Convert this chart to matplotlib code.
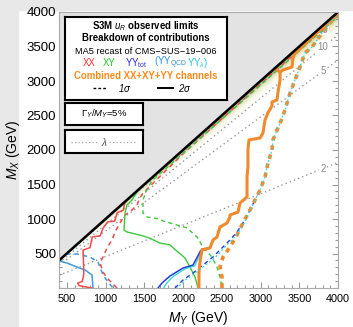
import matplotlib
matplotlib.use("Agg")
import matplotlib.pyplot as plt
from matplotlib.patches import Rectangle
from matplotlib.ticker import MultipleLocator
import numpy as np

plt.rcParams['font.family'] = ['Liberation Sans', 'DejaVu Sans']
plt.rcParams['mathtext.fontset'] = 'custom'
plt.rcParams['mathtext.rm'] = 'Liberation Sans'
plt.rcParams['mathtext.it'] = 'Liberation Sans:italic'
plt.rcParams['mathtext.bf'] = 'Liberation Sans:bold'

# ---- data (GeV) ----
# XX channel
xx_2s_x = [830, 720, 660, 640, 700, 720, 715, 710, 800, 830, 930, 970, 1030, 1120, 1150, 1230, 1250]
xx_2s_y = [0, 20, 35, 70, 95, 200, 400, 550, 585, 740, 755, 870, 960, 970, 1090, 1130, 1240]
xx_1s_x = [1148, 1084, 1019, 968, 929, 968, 1019, 1084, 1123, 1187, 1252, 1342, 1406, 1445, 1484,
           2000, 2500, 3000, 3500, 4000]
xx_1s_y = [0, 72, 145, 232, 362, 449, 580, 696, 812, 942, 1058, 1130, 1203, 1304, 1377,
           1945, 2450, 2955, 3460, 3960]
# XY channel
xy_2s_x = [1406, 1342, 1277, 1252, 1239, 1277, 1488, 1574, 1703, 1832, 1935, 2026, 2090, 2155, 2194]
xy_2s_y = [1390, 1275, 1203, 1087, 840, 812, 754, 720, 652, 623, 522, 435, 304, 159, 0]
xy_1s_x = [4000, 3000, 2000, 1600, 1548, 1520, 1484, 1484, 1535, 1703, 1742, 1922, 2052, 2181,
           2258, 2374, 2439, 2477, 2503]
xy_1s_y = [3935, 2940, 1950, 1555, 1449, 1391, 1275, 1087, 1029, 1000, 971, 913, 870, 739,
           594, 449, 304, 159, 0]
# YY total
yy_2s_x = [1677, 1729, 1832, 2000, 2129, 2219, 2245, 2348, 2387, 2439, 2477, 2568, 2606, 2606]
yy_2s_y = [0, 72, 174, 290, 333, 522, 565, 580, 696, 739, 884, 942, 1029, 1060]
yy_1s_x = [1897, 2000, 2129, 2258, 2387, 2503, 2606, 2697, 2774, 2864, 2929]
yy_1s_y = [0, 116, 217, 333, 449, 580, 696, 812, 942, 1130, 1275]
# YY QCD
qcd_2s_x = [400, 503, 632, 735, 826, 839]
qcd_2s_y = [395, 362, 304, 261, 188, 0]
qcd_1s_x = [490, 540, 632, 800, 903, 929, 968, 1032, 1097]
qcd_1s_y = [490, 493, 493, 449, 377, 304, 188, 87, 0]
# YY lambda
lam_2s_x = [1750, 1790, 1880, 2030, 2150, 2225]
lam_2s_y = [0, 72, 174, 280, 320, 500]
lam_1s_x = [1922, 2030, 2160, 2290, 2420, 2530, 2630, 2720, 2790, 2864, 2929, 2994, 3058, 3097,
            3148, 3161, 3213, 3270, 3316, 3381, 3445, 3510, 3574, 3665, 3729, 3794, 3871, 3961]
lam_1s_y = [0, 116, 217, 333, 449, 580, 696, 812, 942, 1130, 1275, 1420, 1609, 1812,
            2000, 2145, 2290, 2435, 2580, 2826, 3014, 3203, 3406, 3493, 3594, 3696, 3812, 3928]
# combined
comb_2s_x = [2206, 2206, 2219, 2245, 2348, 2387, 2439, 2477, 2568, 2606, 2606, 2710, 2735, 2826,
             2826, 2838, 2838, 2851, 2994, 3032, 3058, 3097, 3148, 3148, 3213, 3226, 3252, 3252,
             3290, 3406, 3419, 3445, 3700, 4000]
comb_2s_y = [0, 217, 377, 551, 580, 696, 739, 884, 942, 1029, 1058, 1101, 1232, 1319,
             1609, 1754, 2000, 2145, 2174, 2246, 2435, 2540, 2640, 2696, 2725, 2841, 3014, 3130,
             3159, 3203, 3333, 3400, 3670, 3970]
comb_spur_x = [3252, 3187]
comb_spur_y = [3130, 3180]
comb_1s_x = [2503, 2503, 2477, 2516, 2606, 2697, 2774, 2864, 2929, 2994, 3058, 3097, 3148, 3161,
             3213, 3270, 3316, 3381, 3445, 3510, 3574, 3665, 3729, 3794, 3871, 3961]
comb_1s_y = [0, 159, 304, 449, 594, 768, 942, 1130, 1275, 1420, 1609, 1812, 2000, 2145,
             2290, 2435, 2580, 2826, 3014, 3203, 3406, 3493, 3594, 3696, 3812, 3928]
# coupling contours (M_X / M_Y ratio for each lambda)
lam_vals = ['2', '5', '10', '50']
lam_ratio = [0.455, 0.826, 0.917, 0.984]
lam_label_x = 3806

c_red = '#f24b4b'
c_green = '#3cc83c'
c_blue = '#2a3cd6'
c_qcd = '#3c9be0'
c_lam = '#38d8e0'
c_orange = '#f08a2c'

fig = plt.figure(figsize=(3.53, 3.27), dpi=100)
fig.patches.append(Rectangle((0, 0), 18 / 353, 1, transform=fig.transFigure,
                             color='#e8e8e8', zorder=-10))
fig.patches.append(Rectangle((0, 1 - 10 / 327), 1, 10 / 327, transform=fig.transFigure,
                             color='#e8e8e8', zorder=-10))

ax = fig.add_axes([59 / 353, 1 - 288 / 327, 279 / 353, 276 / 327])
ax.set_xlim(400, 4000)
ax.set_ylim(0, 4000)

# shading near the kinematic edge
gx = np.linspace(400, 4000, 500)
gy = np.linspace(0, 4000, 560)
GX, GY = np.meshgrid(gx, gy)
r = GY / GX
t = np.clip((r - 0.90) / 0.10, 0, 1)
t[r > 1] = 0
c0 = np.array([0.96, 0.96, 0.80])
c1 = np.array([0.55, 0.56, 0.25])
rgba = np.zeros(GX.shape + (4,))
rgba[..., :3] = c0 + (c1 - c0) * (t[..., None] ** 3)
rgba[..., 3] = t ** 1.6
ax.imshow(rgba, extent=(400, 4000, 0, 4000), origin='lower', aspect='auto',
          interpolation='bilinear', zorder=1)

ax.fill([400, 400, 4000], [400, 4000, 4000], color='#e3e3e3', zorder=6, lw=0)

for lab, k in zip(lam_vals, lam_ratio):
    ax.plot([400, 4000], [400 * k, 4000 * k], ls=(0, (1, 2.2)), color='#999999', lw=1.0, zorder=2)
    ax.text(lam_label_x, lam_label_x * k, lab, fontsize=7, color='#888888', ha='center',
            va='center', zorder=3,
            bbox=dict(facecolor='white', edgecolor='none', pad=0.6))

dash = (0, (3, 2.5))
ax.plot(qcd_2s_x, qcd_2s_y, color=c_qcd, lw=1.1, zorder=4)
ax.plot(qcd_1s_x, qcd_1s_y, color=c_qcd, lw=1.1, ls=dash, zorder=4)
ax.plot(xx_2s_x, xx_2s_y, color=c_red, lw=1.1, zorder=4)
ax.plot(xx_1s_x, xx_1s_y, color=c_red, lw=1.1, ls=dash, zorder=4)
ax.plot(xy_2s_x, xy_2s_y, color=c_green, lw=1.0, zorder=4)
ax.plot(xy_1s_x, xy_1s_y, color=c_green, lw=1.0, ls=(2, (3, 2.5)), zorder=4)
ax.plot(lam_2s_x, lam_2s_y, color=c_lam, lw=1.0, zorder=4)
ax.plot(yy_2s_x, yy_2s_y, color=c_blue, lw=1.1, zorder=4)
ax.plot(yy_1s_x, yy_1s_y, color=c_blue, lw=1.0, ls=dash, zorder=4)
ax.plot(comb_2s_x, comb_2s_y, color=c_orange, lw=2.2, zorder=5, solid_joinstyle='round')
ax.plot(comb_spur_x, comb_spur_y, color=c_orange, lw=2.2, zorder=5)
ax.plot(comb_1s_x, comb_1s_y, color=c_orange, lw=2.6, ls=(0, (1.3, 1.3)), zorder=5)
ax.plot(lam_1s_x, lam_1s_y, color=c_lam, lw=0.9, ls=(1, (1.6, 1.8)), zorder=5)

ax.plot([400, 4000], [400, 4000], color='black', lw=1.8, zorder=7)

ax.set_xticks(np.arange(500, 4001, 500))
ax.set_yticks(np.arange(500, 4001, 500))
ax.xaxis.set_minor_locator(MultipleLocator(100))
ax.yaxis.set_minor_locator(MultipleLocator(100))
ax.tick_params(which='both', direction='in', top=True, right=True, color='#999999', width=0.8)
ax.tick_params(which='major', length=4.5)
ax.tick_params(which='minor', length=2.5)
ax.tick_params(axis='x', labelsize=7.8, pad=4)
ax.tick_params(axis='y', labelsize=9.5, pad=2)
for sp in ax.spines.values():
    sp.set_color('#aaaaaa')
    sp.set_linewidth(0.8)
    sp.set_zorder(8)
ax.set_xlabel(r'$M_Y$ (GeV)', fontsize=10, labelpad=4)
ax.set_ylabel(r'$M_X$ (GeV)', fontsize=10, labelpad=3)


def make_box(x0, y0, x1, y1):
    b = fig.add_axes([x0 / 353, 1 - y1 / 327, (x1 - x0) / 353, (y1 - y0) / 327])
    b.set_xlim(0, 1)
    b.set_ylim(0, 1)
    b.set_xticks([])
    b.set_yticks([])
    for sp in b.spines.values():
        sp.set_linewidth(1.5)
        sp.set_color('black')
    return b


lb = make_box(65, 17, 227, 100)
fs = 6.9
lb.text(0.5, 0.885, r'S3M $u_R$ observed limits', fontsize=fs, weight='bold', ha='center', va='center')
lb.text(0.5, 0.745, 'Breakdown of contributions', fontsize=fs, weight='bold', ha='center', va='center')
lb.text(0.5, 0.59, 'MA5 recast of CMS\u2212SUS\u221219\u2212006', fontsize=fs - 0.2, ha='center', va='center')
row = 0.445
lb.text(0.111, row, 'XX', color='#ff2a2a', fontsize=fs, va='center')
lb.text(0.235, row, 'XY', color='#22cc22', fontsize=fs, va='center')
lb.text(0.370, row, r'YY$_{\rm tot}$', color='#2a2ad8', fontsize=fs, va='center')
lb.text(0.550, row, r'(YY$_{\rm QCD}$', color='#2f8fd8', fontsize=fs, va='center')
lb.text(0.752, row, r'YY$_\lambda$)', color='#22c8d8', fontsize=fs, va='center')
lb.text(0.5, 0.29, 'Combined XX+XY+YY channels', color='#ff8a1a', fontsize=fs, weight='bold',
        ha='center', va='center')
lb.plot([0.173, 0.253], [0.145, 0.145], color='black', lw=1.0, ls=(0, (2, 1.5)))
lb.text(0.33, 0.145, r'1$\sigma$', fontsize=fs, style='italic', va='center')
lb.plot([0.574, 0.667], [0.145, 0.145], color='black', lw=1.4)
lb.text(0.70, 0.145, r'2$\sigma$', fontsize=fs, style='italic', va='center')

gb = make_box(65, 103, 143, 125)
gb.text(0.5, 0.5, r'$\Gamma_Y/M_Y$=5%', fontsize=6.8, ha='center', va='center')

kb = make_box(65, 130, 143, 153)
kb.plot([0.08, 0.44], [0.5, 0.5], color='#aaaaaa', lw=0.9, ls=(0, (1, 1.8)))
kb.plot([0.56, 0.92], [0.5, 0.5], color='#aaaaaa', lw=0.9, ls=(0, (1, 1.8)))
kb.text(0.5, 0.5, r'$\lambda$', fontsize=7.2, color='#555555', ha='center', va='center')

fig.savefig('out.png', dpi=100)
